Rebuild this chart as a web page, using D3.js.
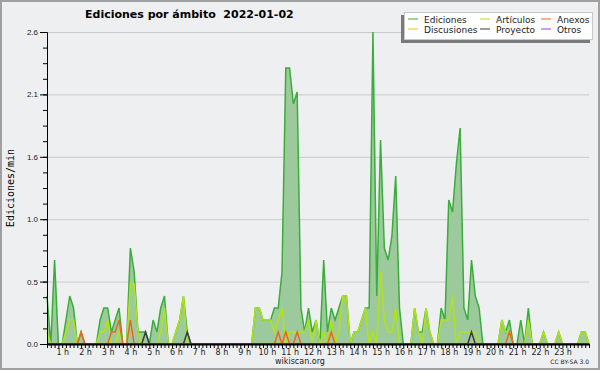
<!DOCTYPE html>
<html>
<head>
<meta charset="utf-8">
<script src="https://cdn.jsdelivr.net/npm/d3@7"></script>
<style>
    html, body { margin: 0; padding: 0; background: #eeeff1; }
    svg { display: block; font-family: 'DejaVu Sans', sans-serif; }
</style>
</head>
<body>
<div id="chart"></div>
<script>
// Ediciones por ámbito - edits per minute, 10 minute bins over one day

const chartTitle = 'Ediciones por ámbito  2022-01-02';
const yTitle = 'Ediciones/min';
const footer = 'wikiscan.org';
const licence = 'CC BY-SA 3.0';

const hourLabels = ['1 h', '2 h', '3 h', '4 h', '5 h', '6 h', '7 h', '8 h', '9 h', '10 h', '11 h', '12 h',
    '13 h', '14 h', '15 h', '16 h', '17 h', '18 h', '19 h', '20 h', '21 h', '22 h', '23 h'];
const yTickValues = [0, 0.52, 1.04, 1.56, 2.08, 2.6];

const seriesNames = ['Ediciones', 'Artículos', 'Anexos', 'Discusiones', 'Proyecto', 'Otros'];
const seriesColors = ['#3aad3a', '#b2e314', '#f0641e', '#f5c400', '#3c3c3c', '#9040e8'];

// one row = 2 hours (12 bins of 10 min)
const ediciones = [
    0.4, 0, 0.7, 0, 0, 0.2, 0.4, 0.3, 0, 0.1, 0, 0,
    0, 0, 0.2, 0.3, 0.3, 0.1, 0.2, 0.3, 0, 0, 0.8, 0.6,
    0.1, 0.1, 0.1, 0, 0.2, 0.1, 0.3, 0.4, 0, 0, 0.1, 0.2,
    0.4, 0.1, 0, 0, 0, 0, 0, 0, 0, 0, 0, 0,
    0, 0, 0, 0, 0, 0, 0, 0.3, 0.3, 0.2, 0.2, 0.2,
    0.3, 0.3, 0.6, 2.3, 2.3, 2.0, 2.1, 0.3, 0.1, 0.3, 0.1, 0.2,
    0, 0.7, 0.1, 0.3, 0.2, 0.3, 0.4, 0.4, 0, 0.1, 0.1, 0.2,
    0.3, 0.3, 2.6, 0.4, 1.7, 0.8, 0.7, 0.9, 1.4, 0.3, 0, 0,
    0, 0.3, 0.1, 0.1, 0.3, 0.1, 0, 0, 0.3, 0.2, 1.2, 1.1,
    1.5, 1.8, 0.3, 0.2, 0.7, 0.4, 0.3, 0, 0, 0, 0, 0,
    0.2, 0.1, 0.2, 0, 0, 0.2, 0, 0.3, 0, 0, 0, 0.1,
    0, 0, 0, 0.1, 0, 0, 0, 0, 0, 0.1, 0.1, 0
];
const articulos = [
    0.1, 0, 0, 0, 0, 0.1, 0.2, 0.2, 0, 0, 0, 0,
    0, 0, 0.1, 0.1, 0.2, 0, 0, 0.1, 0, 0, 0.5, 0.5,
    0.1, 0, 0, 0, 0, 0, 0.1, 0.3, 0, 0, 0.1, 0.2,
    0.4, 0, 0, 0, 0, 0, 0, 0, 0, 0, 0, 0,
    0, 0, 0, 0, 0, 0, 0, 0.3, 0.3, 0.2, 0.2, 0.2,
    0.1, 0.2, 0.3, 0, 0.1, 0.1, 0.1, 0.1, 0.1, 0.2, 0, 0.2,
    0, 0.1, 0, 0.2, 0, 0.1, 0.4, 0.4, 0, 0.1, 0.1, 0.2,
    0.3, 0, 0.1, 0, 0.6, 0.2, 0.1, 0.1, 0.3, 0, 0, 0,
    0, 0.3, 0.1, 0, 0.3, 0.1, 0, 0, 0.2, 0.2, 0.2, 0.4,
    0, 0.1, 0.1, 0.1, 0.1, 0.1, 0, 0, 0, 0, 0, 0,
    0.2, 0.1, 0.1, 0, 0, 0, 0, 0.2, 0, 0, 0, 0.1,
    0, 0, 0, 0.1, 0, 0, 0, 0, 0, 0.1, 0.1, 0
];
const anexos = [
    0, 0, 0, 0, 0, 0, 0, 0, 0, 0.1, 0, 0,
    0, 0, 0, 0, 0, 0.1, 0.1, 0.2, 0, 0, 0.2, 0,
    0, 0, 0, 0, 0, 0, 0, 0, 0, 0, 0, 0,
    0, 0, 0, 0, 0, 0, 0, 0, 0, 0, 0, 0,
    0, 0, 0, 0, 0, 0, 0, 0, 0, 0, 0, 0,
    0, 0.1, 0, 0.1, 0, 0, 0.1, 0, 0, 0, 0, 0,
    0, 0, 0, 0.1, 0, 0, 0, 0, 0, 0, 0, 0,
    0, 0, 0, 0, 0, 0, 0, 0, 0, 0, 0, 0,
    0, 0, 0, 0, 0, 0, 0, 0, 0, 0, 0, 0,
    0, 0, 0, 0, 0, 0, 0, 0, 0, 0, 0, 0,
    0, 0, 0.1, 0, 0, 0, 0, 0, 0, 0, 0, 0,
    0, 0, 0, 0, 0, 0, 0, 0, 0, 0, 0, 0
];
const discusiones = [
    0, 0, 0, 0, 0, 0, 0, 0, 0, 0, 0, 0,
    0, 0, 0, 0, 0, 0, 0, 0, 0, 0, 0, 0,
    0, 0, 0, 0, 0, 0, 0, 0, 0, 0, 0, 0,
    0, 0, 0, 0, 0, 0, 0, 0, 0, 0, 0, 0,
    0, 0, 0, 0, 0, 0, 0, 0, 0, 0, 0, 0,
    0, 0, 0, 0, 0, 0, 0, 0, 0, 0, 0, 0,
    0, 0, 0, 0, 0, 0, 0, 0, 0, 0, 0, 0,
    0, 0, 0, 0, 0, 0, 0, 0, 0, 0, 0, 0,
    0, 0, 0, 0, 0, 0, 0, 0, 0, 0, 0, 0,
    0, 0, 0, 0, 0, 0, 0, 0, 0, 0, 0, 0,
    0, 0, 0, 0, 0, 0, 0, 0, 0, 0, 0, 0,
    0, 0, 0, 0, 0, 0, 0, 0, 0, 0, 0, 0
];
const proyecto = [
    0, 0, 0, 0, 0, 0, 0, 0, 0, 0, 0, 0,
    0, 0, 0, 0, 0, 0, 0, 0, 0, 0, 0, 0,
    0, 0, 0.1, 0, 0, 0, 0, 0, 0, 0, 0, 0,
    0, 0.1, 0, 0, 0, 0, 0, 0, 0, 0, 0, 0,
    0, 0, 0, 0, 0, 0, 0, 0, 0, 0, 0, 0,
    0, 0, 0, 0, 0, 0, 0, 0, 0, 0, 0, 0,
    0, 0, 0, 0, 0, 0, 0, 0, 0, 0, 0, 0,
    0, 0, 0, 0, 0, 0, 0, 0, 0, 0, 0, 0,
    0, 0, 0, 0, 0, 0, 0, 0, 0, 0, 0, 0,
    0, 0, 0, 0, 0.1, 0, 0, 0, 0, 0, 0, 0,
    0, 0, 0, 0, 0, 0, 0, 0, 0, 0, 0, 0,
    0, 0, 0, 0, 0, 0, 0, 0, 0, 0, 0, 0
];
const otros = [
    0, 0, 0, 0, 0, 0, 0, 0, 0, 0, 0, 0,
    0, 0, 0, 0, 0, 0, 0, 0, 0, 0, 0, 0,
    0, 0, 0, 0, 0, 0, 0, 0, 0, 0, 0, 0,
    0, 0, 0, 0, 0, 0, 0, 0, 0, 0, 0, 0,
    0, 0, 0, 0, 0, 0, 0, 0, 0, 0, 0, 0,
    0, 0, 0, 0, 0, 0, 0, 0, 0, 0, 0, 0,
    0, 0, 0, 0, 0, 0, 0, 0, 0, 0, 0, 0,
    0, 0, 0, 0, 0, 0, 0, 0, 0, 0, 0, 0,
    0, 0, 0, 0, 0, 0, 0, 0, 0, 0, 0, 0,
    0, 0, 0, 0, 0, 0, 0, 0, 0, 0, 0, 0,
    0, 0, 0, 0, 0, 0, 0, 0, 0, 0, 0, 0,
    0, 0, 0, 0, 0, 0, 0, 0, 0, 0, 0, 0
];

const allSeries = [ediciones, articulos, anexos, discusiones, proyecto, otros];

function initChart() {
    const W = 600, H = 370;
    const plot = { left: 47, right: 589, top: 32, bottom: 344 };

    const svg = d3.select('#chart').append('svg')
        .attr('width', W)
        .attr('height', H);

    svg.append('rect')
        .attr('width', W).attr('height', H)
        .attr('fill', '#eeeff1');

    // scales: one unit = one 10 minute bin
    const x = d3.scaleLinear()
        .domain([0, ediciones.length - 1])
        .range([plot.left, plot.right]);
    const y = d3.scaleLinear()
        .domain([0, 2.6])
        .range([plot.bottom, plot.top]);

    // grid
    svg.append('g')
        .attr('class', 'grid')
        .attr('transform', `translate(${plot.left},0)`)
        .call(d3.axisLeft(y).tickValues(yTickValues.slice(1)).tickSize(-(plot.right - plot.left)).tickFormat(''))
        .call(g => g.select('.domain').remove())
        .call(g => g.selectAll('line').attr('stroke', '#cacaca'));

    // filled total
    const area = d3.area()
        .x((d, i) => x(i))
        .y0(y(0))
        .y1(d => y(d));
    svg.append('path')
        .datum(ediciones)
        .attr('d', area)
        .attr('fill', '#9dca9d');

    const line = d3.line()
        .x((d, i) => x(i))
        .y(d => y(d));

    allSeries.forEach((values, i) => {
        svg.append('path')
            .datum(values)
            .attr('d', line)
            .attr('fill', 'none')
            .attr('stroke', seriesColors[i])
            .attr('stroke-width', 1.5)
            .attr('stroke-linejoin', 'miter');
    });

    // x axis, a tick per bin
    svg.append('g')
        .attr('transform', `translate(0,${plot.bottom})`)
        .call(d3.axisBottom(x).tickValues(d3.range(0, ediciones.length)).tickSize(4).tickSizeOuter(0).tickFormat(''))
        .call(g => g.select('.domain').attr('stroke-width', 2))
        .call(g => g.selectAll('line').attr('stroke', '#000'));

    svg.append('g')
        .selectAll('text')
        .data(hourLabels)
        .join('text')
        .attr('x', (d, i) => x((i + 1) * 6) - 7)
        .attr('y', 355)
        .attr('text-anchor', 'middle')
        .style('font-size', '8px')
        .attr('fill', '#222')
        .text(d => d);

    // y axis, major and minor ticks
    svg.append('g')
        .attr('transform', `translate(${plot.left},0)`)
        .call(d3.axisLeft(y).tickValues(d3.range(0, 2.61, 0.13)).tickSize(4).tickSizeOuter(0).tickFormat(''));
    svg.append('g')
        .attr('transform', `translate(${plot.left},0)`)
        .call(d3.axisLeft(y).tickValues(yTickValues).tickSize(7).tickSizeOuter(0).tickPadding(2)
            .tickFormat(d3.format('.1f')))
        .call(g => g.selectAll('text').style('font-size', '8px').attr('fill', '#222'));

    svg.append('text')
        .attr('transform', `translate(14,${(plot.top + plot.bottom) / 2}) rotate(-90)`)
        .attr('text-anchor', 'middle')
        .style('font-family', "'DejaVu Sans Mono', monospace")
        .style('font-size', '10px')
        .text(yTitle);

    // title
    svg.append('text')
        .attr('x', 85)
        .attr('y', 18)
        .style('font-size', '11px')
        .style('font-weight', 'bold')
        .style('white-space', 'pre')
        .text(chartTitle);

    // footer
    svg.append('text')
        .attr('x', 300).attr('y', 364)
        .attr('text-anchor', 'middle')
        .style('font-size', '8px')
        .attr('fill', '#222')
        .text(footer);
    svg.append('text')
        .attr('x', 589).attr('y', 364)
        .attr('text-anchor', 'end')
        .style('font-size', '6px')
        .attr('fill', '#222')
        .text(licence);

    // legend
    const legend = svg.append('g');
    legend.append('rect')
        .attr('x', 401).attr('y', 15).attr('width', 189).attr('height', 28)
        .attr('fill', '#7a7a7a');
    legend.append('rect')
        .attr('x', 404.5).attr('y', 12.5).attr('width', 188).attr('height', 27)
        .attr('fill', '#fff').attr('stroke', '#c8c8c8');

    const legendCols = [408, 480, 541];
    const legendRows = [19, 29];
    const legendSlots = [[0, 0], [1, 0], [2, 0], [0, 1], [1, 1], [2, 1]];
    seriesNames.forEach((name, i) => {
        const [c, r] = legendSlots[i];
        const lx = legendCols[c], ly = legendRows[r];
        legend.append('line')
            .attr('x1', lx).attr('x2', lx + 10)
            .attr('y1', ly).attr('y2', ly)
            .attr('stroke', seriesColors[i]).attr('stroke-width', 1);
        legend.append('text')
            .attr('x', lx + 16).attr('y', ly + 4)
            .style('font-size', '9px')
            .attr('fill', '#222')
            .text(name);
    });

    // frame
    svg.append('rect')
        .attr('x', 1).attr('y', 1).attr('width', W - 2).attr('height', H - 2)
        .attr('fill', 'none')
        .attr('stroke', '#a0a0a0')
        .attr('stroke-width', 2);
}

initChart();
</script>
</body>
</html>
